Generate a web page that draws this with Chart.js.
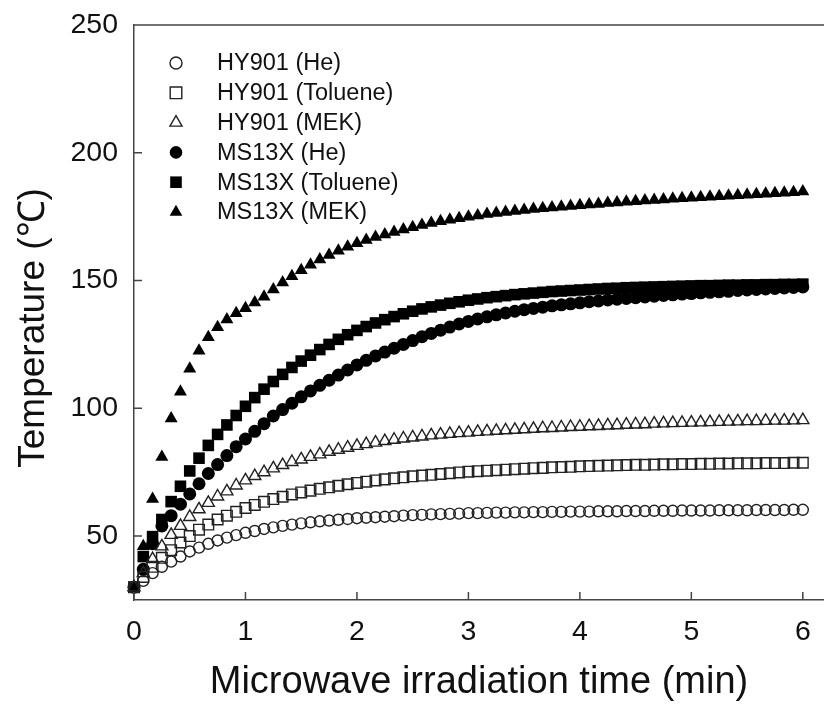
<!DOCTYPE html>
<html>
<head>
<meta charset="utf-8">
<script src="https://cdn.jsdelivr.net/npm/chart.js@4.4.1/dist/chart.umd.min.js"></script>
<style>
  html, body { margin: 0; padding: 0; background: #fff; overflow: hidden; }
</style>
</head>
<body>
<canvas id="tempChart" width="824" height="713"></canvas>
<script>
// 照射時間（秒）: 5秒ごとの測定
const seconds = [0, 5, 10, 15, 20, 25, 30, 35, 40, 45, 50, 55,
  60, 65, 70, 75, 80, 85, 90, 95, 100, 105, 110, 115,
  120, 125, 130, 135, 140, 145, 150, 155, 160, 165, 170, 175,
  180, 185, 190, 195, 200, 205, 210, 215, 220, 225, 230, 235,
  240, 245, 250, 255, 260, 265, 270, 275, 280, 285, 290, 295,
  300, 305, 310, 315, 320, 325, 330, 335, 340, 345, 350, 355,
  360];

const xTicks = [0, 1, 2, 3, 4, 5, 6];
const yTicks = [50, 100, 150, 200, 250];

// HY901 (He)
const hyHe = [30, 32.5, 35.5, 38, 40, 42, 44, 45.5, 47, 48.3, 49.4, 50.4,
  51.3, 52, 52.8, 53.4, 54, 54.5, 55, 55.4, 55.8, 56.1, 56.4, 56.7,
  57, 57.2, 57.4, 57.6, 57.8, 58, 58.2, 58.3, 58.5, 58.6, 58.7, 58.8,
  59, 59, 59.1, 59.2, 59.2, 59.3, 59.3, 59.4, 59.4, 59.5, 59.5, 59.6,
  59.6, 59.6, 59.7, 59.7, 59.7, 59.8, 59.8, 59.8, 59.9, 59.9, 59.9, 60,
  60, 60, 60, 60.1, 60.1, 60.1, 60.1, 60.2, 60.2, 60.2, 60.2, 60.3,
  60.3];

// HY901 (Toluene)
const hyTol = [30, 34, 38, 41.5, 44.5, 47.5, 50, 52.5, 54.5, 56.5, 58, 59.5,
  61, 62.2, 63.4, 64.5, 65.4, 66.3, 67.1, 67.8, 68.5, 69.1, 69.7, 70.3,
  70.8, 71.3, 71.8, 72.2, 72.6, 73, 73.4, 73.7, 74, 74.3, 74.6, 74.9,
  75.2, 75.4, 75.6, 75.8, 76, 76.2, 76.4, 76.6, 76.7, 76.9, 77, 77.1,
  77.3, 77.4, 77.5, 77.6, 77.7, 77.8, 77.9, 77.9, 78, 78.1, 78.1, 78.2,
  78.2, 78.3, 78.3, 78.4, 78.4, 78.5, 78.5, 78.5, 78.6, 78.6, 78.6, 78.7,
  78.7];

// HY901 (MEK)
const hyMek = [30, 35.5, 41, 46, 50.5, 54, 57.5, 60.5, 63, 65.5, 67.5, 69.8,
  71.8, 73.5, 75, 76.5, 77.8, 79, 80, 81, 82, 83, 83.8, 84.6,
  85.3, 86, 86.6, 87.2, 87.7, 88.2, 88.6, 89, 89.4, 89.7, 90, 90.3,
  90.5, 90.8, 91, 91.2, 91.4, 91.6, 91.8, 92, 92.2, 92.3, 92.5, 92.7,
  92.8, 93, 93.1, 93.3, 93.4, 93.6, 93.7, 93.8, 94, 94.1, 94.2, 94.3,
  94.4, 94.5, 94.6, 94.7, 94.8, 94.9, 95, 95, 95.1, 95.2, 95.2, 95.3,
  95.4];

// MS13X (He)
const msHe = [30, 37, 47, 54, 58, 62.5, 66.5, 70.5, 74.5, 78, 81.5, 85,
  88, 91, 94, 97, 99.5, 102, 104.5, 106.8, 109, 111, 113, 115,
  117, 118.8, 120.5, 122, 123.5, 125, 126.5, 128, 129.3, 130.6, 131.8, 133,
  134, 135, 135.8, 136.6, 137.3, 138, 138.6, 139.1, 139.6, 140.1, 140.5, 140.9,
  141.3, 141.7, 142, 142.4, 142.7, 143, 143.3, 143.6, 143.9, 144.2, 144.4, 144.7,
  144.9, 145.2, 145.4, 145.6, 145.8, 146.1, 146.3, 146.5, 146.7, 146.9, 147.1, 147.3,
  147.5];

// MS13X (Toluene)
const msTol = [30, 42, 49.8, 56.5, 63.5, 69.5, 75.5, 80.5, 85.5, 89.8, 93.5, 97.2,
  100.8, 104.2, 107.5, 110.5, 113.3, 116, 118.5, 120.8, 123, 125, 127, 128.8,
  130.5, 132, 133.4, 134.7, 135.9, 137, 138, 138.9, 139.7, 140.4, 141.1, 141.7,
  142.3, 142.8, 143.3, 143.7, 144.1, 144.5, 144.8, 145.1, 145.4, 145.7, 145.9, 146.1,
  146.3, 146.5, 146.7, 146.9, 147, 147.2, 147.3, 147.4, 147.5, 147.6, 147.7, 147.8,
  147.9, 148, 148, 148.1, 148.2, 148.2, 148.3, 148.3, 148.4, 148.4, 148.5, 148.5,
  148.6];

// MS13X (MEK)
const msMek = [30, 46, 64.5, 81, 96, 106.5, 115.5, 122.5, 127.8, 131.7, 134.8, 137.2,
  139.2, 141.4, 143.7, 146.5, 149.2, 151.7, 154, 156.2, 158.2, 160, 161.7, 163.2,
  164.6, 165.9, 167, 168, 169, 170, 170.9, 171.7, 172.5, 173.2, 173.8, 174.4,
  175, 175.5, 176, 176.4, 176.8, 177.2, 177.6, 178, 178.3, 178.6, 178.9, 179.2,
  179.5, 179.8, 180, 180.3, 180.5, 180.8, 181, 181.3, 181.5, 181.7, 182, 182.2,
  182.4, 182.6, 182.8, 183, 183.2, 183.4, 183.6, 183.8, 184, 184.2, 184.4, 184.6,
  184.8];

const FONT = '"Liberation Sans", Arial, Helvetica, sans-serif';
const INK = '#111';
const AXIS = '#444';

function toPoints(values) {
  return values.map((v, i) => ({ x: seconds[i] / 60, y: v }));
}

function series(label, values, style, filled, radius, legendRadius) {
  return {
    label: label,
    data: toPoints(values),
    pointStyle: style,
    pointRadius: radius,
    pointHoverRadius: radius,
    legendRadius: legendRadius,
    backgroundColor: filled ? '#000' : 'rgba(255,255,255,0)',
    borderColor: filled ? '#000' : '#222',
    borderWidth: filled ? 0 : 1.4,
    showLine: false,
    clip: false
  };
}

// 図中の凡例（左上）
const insideLegend = {
  id: 'insideLegend',
  afterDraw(chart) {
    const ctx = chart.ctx;
    ctx.save();
    ctx.font = '23.5px ' + FONT;
    ctx.textBaseline = 'middle';
    chart.data.datasets.forEach((ds, i) => {
      const y = 63 + i * 29.8;
      ctx.fillStyle = ds.backgroundColor;
      ctx.strokeStyle = ds.borderColor;
      ctx.lineWidth = ds.borderWidth;
      Chart.helpers.drawPoint(ctx, {
        pointStyle: ds.pointStyle,
        radius: ds.legendRadius,
        borderWidth: ds.borderWidth,
        rotation: 0
      }, 176, y);
      ctx.fillStyle = INK;
      ctx.fillText(ds.label, 217, y + 1);
    });
    ctx.restore();
  }
};

// 内向きの目盛りと上側の枠線
const frameTicks = {
  id: 'frameTicks',
  afterDatasetsDraw(chart) {
    const { ctx, chartArea: a, scales: { x, y } } = chart;
    ctx.save();
    ctx.strokeStyle = AXIS;
    ctx.lineWidth = 1.5;
    ctx.beginPath();
    ctx.moveTo(a.left, a.top);
    ctx.lineTo(a.right, a.top);
    xTicks.forEach(v => {
      const px = x.getPixelForValue(v);
      ctx.moveTo(px, a.bottom);
      ctx.lineTo(px, a.bottom - 8);
    });
    yTicks.forEach(v => {
      const py = y.getPixelForValue(v);
      ctx.moveTo(a.left, py);
      ctx.lineTo(a.left + 8, py);
    });
    ctx.stroke();
    ctx.restore();
  }
};

new Chart(document.getElementById('tempChart'), {
  type: 'scatter',
  data: {
    datasets: [
      series('HY901 (He)', hyHe, 'circle', false, 5.5, 6),
      series('HY901 (Toluene)', hyTol, 'rect', false, 7.5, 8.2),
      series('HY901 (MEK)', hyMek, 'triangle', false, 7, 7),
      series('MS13X (He)', msHe, 'circle', true, 6.5, 6.3),
      series('MS13X (Toluene)', msTol, 'rect', true, 8.2, 8.2),
      series('MS13X (MEK)', msMek, 'triangle', true, 7.5, 7.3)
    ]
  },
  options: {
    responsive: false,
    animation: false,
    layout: { autoPadding: false, padding: { top: 25, right: 0, bottom: 0, left: 0 } },
    plugins: {
      legend: { display: false },
      tooltip: { enabled: false }
    },
    scales: {
      x: {
        type: 'linear',
        min: 0,
        max: 6.19,
        afterBuildTicks: s => { s.ticks = xTicks.map(v => ({ value: v })); },
        afterFit: s => { s.height = 113; s.paddingLeft = 0; s.paddingRight = 0; },
        grid: { display: false, drawTicks: false },
        border: { display: true, color: AXIS, width: 1.5 },
        ticks: { color: INK, font: { family: FONT, size: 28.5 }, padding: 15, maxRotation: 0 },
        title: {
          display: true,
          text: 'Microwave irradiation time (min)',
          color: INK,
          font: { family: FONT, size: 38 },
          padding: { top: 0, bottom: 8 }
        }
      },
      y: {
        type: 'linear',
        min: 25,
        max: 250,
        afterBuildTicks: s => { s.ticks = yTicks.map(v => ({ value: v })); },
        afterFit: s => { s.width = 134; s.paddingTop = 0; s.paddingBottom = 0; },
        grid: { display: false, drawTicks: false },
        border: { display: true, color: AXIS, width: 1.5 },
        ticks: { color: INK, font: { family: FONT, size: 28.5 }, padding: 16 },
        title: {
          display: true,
          text: 'Temperature (℃)   ',
          color: INK,
          font: { family: FONT, size: 37 },
          padding: { top: 12, bottom: 0 }
        }
      }
    }
  },
  plugins: [insideLegend, frameTicks]
});
</script>
</body>
</html>
